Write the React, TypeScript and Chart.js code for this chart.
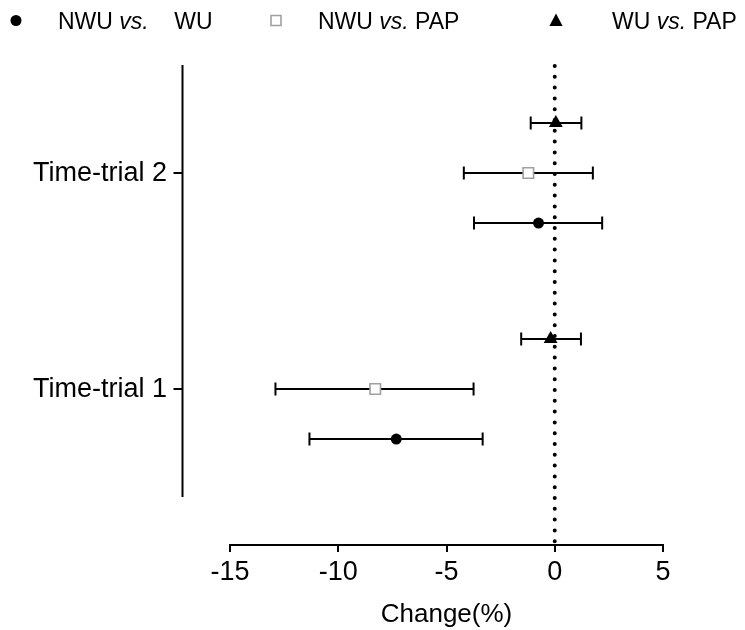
import React, { useEffect, useRef } from "react";
import { Chart, registerables } from "chart.js";

Chart.register(...registerables);

// ---- data ----
const groups = ["Time-trial 1", "Time-trial 2"];
const seriesLabels = ["NWU vs.    WU", "NWU vs. PAP", "WU vs. PAP"];
const nwuWuMean = [-7.32, -0.75];
const nwuWuLow = [-11.33, -3.73];
const nwuWuHigh = [-3.33, 2.19];
const nwuPapMean = [-8.29, -1.22];
const nwuPapLow = [-12.9, -4.2];
const nwuPapHigh = [-3.75, 1.76];
const wuPapMean = [-0.19, 0.05];
const wuPapLow = [-1.55, -1.11];
const wuPapHigh = [1.21, 1.23];
const xTicks = [-15, -10, -5, 0, 5];
const xTitle = "Change(%)";
const referenceValue = 0;

const FONT = "'Liberation Sans', Arial, Helvetica, sans-serif";
const SERIES_OFFSET = [-0.2315, 0, 0.2315];

function buildPoints(mean: number[], low: number[], high: number[], s: number) {
  return mean.map((m, i) => ({ x: m, y: i + 1 + SERIES_OFFSET[s], lo: low[i], hi: high[i] }));
}

function drawMarker(ctx: CanvasRenderingContext2D, kind: number, x: number, y: number, r: number) {
  ctx.save();
  ctx.beginPath();
  if (kind === 0) {
    ctx.arc(x, y, r, 0, Math.PI * 2);
    ctx.fillStyle = "#000";
    ctx.fill();
  } else if (kind === 1) {
    ctx.rect(x - r, y - r, 2 * r, 2 * r);
    ctx.fillStyle = "#fff";
    ctx.fill();
    ctx.strokeStyle = "#a0a0a0";
    ctx.lineWidth = 1.6;
    ctx.stroke();
  } else {
    ctx.moveTo(x, y - r);
    ctx.lineTo(x + r * 0.95, y + r * 0.8);
    ctx.lineTo(x - r * 0.95, y + r * 0.8);
    ctx.closePath();
    ctx.fillStyle = "#000";
    ctx.fill();
  }
  ctx.restore();
}

const forestPlugin = {
  id: "forest",
  beforeDatasetsDraw(chart: any) {
    const { ctx, chartArea, scales } = chart;
    const x = scales.x;
    const y = scales.y;
    // dotted reference line
    ctx.save();
    ctx.strokeStyle = "#000";
    ctx.lineWidth = 4;
    ctx.lineCap = "round";
    ctx.setLineDash([0, 10.8]);
    const px = x.getPixelForValue(referenceValue);
    ctx.beginPath();
    ctx.moveTo(px, chartArea.top + 1);
    ctx.lineTo(px, chartArea.bottom);
    ctx.stroke();
    ctx.restore();
    // error bars
    ctx.save();
    ctx.strokeStyle = "#000";
    ctx.lineWidth = 2;
    chart.data.datasets.forEach((ds: any) => {
      ds.data.forEach((d: any) => {
        const py = y.getPixelForValue(d.y);
        const x1 = x.getPixelForValue(d.lo);
        const x2 = x.getPixelForValue(d.hi);
        ctx.beginPath();
        ctx.moveTo(x1, py);
        ctx.lineTo(x2, py);
        ctx.moveTo(x1, py - 6.5);
        ctx.lineTo(x1, py + 6.5);
        ctx.moveTo(x2, py - 6.5);
        ctx.lineTo(x2, py + 6.5);
        ctx.stroke();
      });
    });
    ctx.restore();
  },
  afterDraw(chart: any) {
    const { ctx, scales } = chart;
    const y = scales.y;
    // left (category) axis
    const axX = 182.5;
    ctx.save();
    ctx.strokeStyle = "#000";
    ctx.lineWidth = 2;
    ctx.beginPath();
    ctx.moveTo(axX, y.getPixelForValue(2.5));
    ctx.lineTo(axX, y.getPixelForValue(0.5));
    groups.forEach((_, i) => {
      const py = y.getPixelForValue(i + 1);
      ctx.moveTo(axX, py);
      ctx.lineTo(axX - 9, py);
    });
    ctx.stroke();
    ctx.fillStyle = "#000";
    ctx.font = `27px ${FONT}`;
    ctx.textAlign = "right";
    ctx.textBaseline = "middle";
    groups.forEach((g, i) => {
      ctx.fillText(g, 167, y.getPixelForValue(i + 1) + 1);
    });
    ctx.restore();

    // legend
    const markerX = [16, 276, 556];
    const textX = [58, 318, 612];
    const markerR = [5.5, 5, 7];
    const baseY = 29;
    ctx.save();
    ctx.fillStyle = "#000";
    ctx.textAlign = "left";
    ctx.textBaseline = "alphabetic";
    seriesLabels.forEach((label, s) => {
      drawMarker(ctx, s, markerX[s], 20.5, markerR[s]);
      const parts = label.split("vs.");
      let cx = textX[s];
      ctx.font = `23px ${FONT}`;
      ctx.fillText(parts[0], cx, baseY);
      cx += ctx.measureText(parts[0]).width;
      ctx.font = `italic 23px ${FONT}`;
      ctx.fillText("vs.", cx, baseY);
      cx += ctx.measureText("vs.").width;
      ctx.font = `23px ${FONT}`;
      ctx.fillText(parts[1], cx, baseY);
    });
    ctx.restore();
  },
};

export default function App() {
  const ref = useRef<HTMLCanvasElement | null>(null);
  useEffect(() => {
    document.body.style.margin = "0";
    const canvas = ref.current;
    if (!canvas) return;
    const chart = new Chart(canvas, {
      type: "scatter",
      data: {
        datasets: [
          {
            label: seriesLabels[0],
            data: buildPoints(nwuWuMean, nwuWuLow, nwuWuHigh, 0),
            pointStyle: "circle",
            pointRadius: 5.5,
            backgroundColor: "#000",
            borderColor: "#000",
            borderWidth: 0,
          },
          {
            label: seriesLabels[1],
            data: buildPoints(nwuPapMean, nwuPapLow, nwuPapHigh, 1),
            pointStyle: "rect",
            pointRadius: 7.4,
            backgroundColor: "#fff",
            borderColor: "#a0a0a0",
            borderWidth: 1.6,
          },
          {
            label: seriesLabels[2],
            data: buildPoints(wuPapMean, wuPapLow, wuPapHigh, 2),
            pointStyle: "triangle",
            pointRadius: 8,
            backgroundColor: "#000",
            borderColor: "#000",
            borderWidth: 0,
          },
        ],
      } as any,
      options: {
        responsive: false,
        animation: false,
        events: [],
        layout: { padding: { left: 230, right: 82, top: 65, bottom: 0 } },
        plugins: { legend: { display: false }, tooltip: { enabled: false } },
        scales: {
          x: {
            type: "linear",
            min: xTicks[0],
            max: xTicks[xTicks.length - 1],
            afterBuildTicks: (s: any) => {
              s.ticks = xTicks.map((v) => ({ value: v }));
            },
            afterFit: (s: any) => {
              s.height = 85;
            },
            border: { display: true, color: "#000", width: 2 },
            grid: {
              display: true,
              drawOnChartArea: false,
              drawTicks: true,
              tickLength: 7,
              color: "#000",
              lineWidth: 2,
            },
            ticks: { color: "#000", font: { family: FONT, size: 27 }, padding: 4, maxRotation: 0 },
            title: {
              display: true,
              text: xTitle,
              color: "#000",
              font: { family: FONT, size: 26 },
              padding: { top: 0, bottom: 0 },
            },
          },
          y: { type: "linear", display: false, min: 0.278, max: 2.5 },
        },
      } as any,
      plugins: [forestPlugin],
    });
    return () => chart.destroy();
  }, []);
  return <canvas ref={ref} width={745} height={630} style={{ display: "block", width: 745, height: 630 }} />;
}
